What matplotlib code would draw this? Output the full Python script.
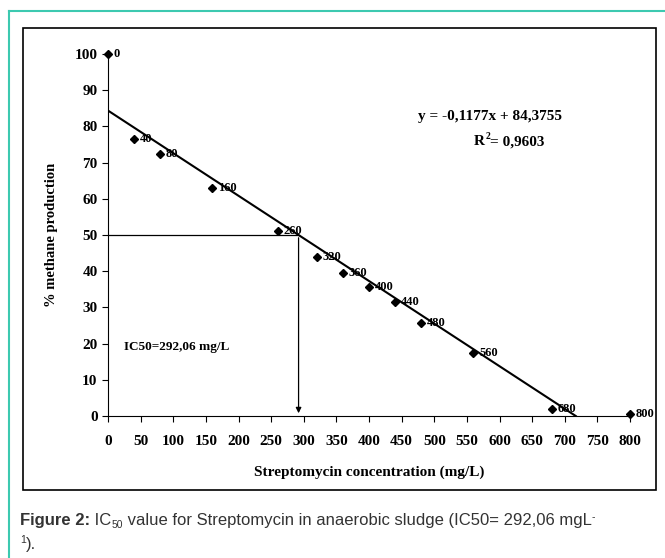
import matplotlib
matplotlib.use("Agg")
import matplotlib.pyplot as plt
from matplotlib.patches import Rectangle
import numpy as np

conc = [0, 40, 80, 160, 260, 320, 360, 400, 440, 480, 560, 680, 800]
methane = [100, 76.5, 72.3, 63, 51, 44, 39.5, 35.5, 31.5, 25.8, 17.5, 1.8, 0.5]
slope, intercept = -0.1177, 84.3755
ic50 = 292.06

W, H = 665, 558
fig = plt.figure(figsize=(W/100, H/100), dpi=100)
serif = dict(family="Liberation Serif", weight="bold")

teal = "#3cc9b0"
fig.add_artist(plt.Line2D([9/W, 9/W], [0, 1-11/H], color=teal, lw=1.5))
fig.add_artist(plt.Line2D([9/W, 1], [1-11/H, 1-11/H], color=teal, lw=1.5))
fig.add_artist(Rectangle((23/W, 1-490/H), (656-23)/W, (490-28)/H, fill=False, ec="black", lw=1.2))

ax = fig.add_axes([108/W, 1-416/H, (630-108)/W, (416-54)/H])
ax.set_xlim(0, 800)
ax.set_ylim(0, 100)
for s in ["top", "right"]:
    ax.spines[s].set_visible(False)
ax.set_xticks(range(0, 801, 50))
ax.set_yticks(range(0, 101, 10))
ax.tick_params(direction="out", length=4, labelsize=11)
for lab in ax.get_xticklabels() + ax.get_yticklabels():
    lab.set_fontfamily("Liberation Serif"); lab.set_fontweight("bold")
ax.tick_params(axis="x", pad=10)

ax.plot(conc, methane, "D", color="black", ms=4.5, clip_on=False, zorder=5)
for x, y in zip(conc, methane):
    ax.text(x + 9, y, str(x), fontsize=9, va="center", ha="left", **serif)

xe = -intercept / slope
xs = np.array([0, xe])
ax.plot(xs, slope * xs + intercept, color="black", lw=1.5)

ax.plot([0, ic50], [50, 50], color="black", lw=0.9)
ax.annotate("", xy=(ic50, 0), xytext=(ic50, 50),
            arrowprops=dict(arrowstyle="-|>", color="black", lw=0.9, mutation_scale=8))

ax.text(585, 82.6, "y = -0,1177x + 84,3755", ha="center", va="center", fontsize=11, **serif)
ax.text(578, 75.7, "R", ha="right", va="center", fontsize=11, **serif)
ax.text(578, 77.3, "2", ha="left", va="center", fontsize=7, **serif)
ax.text(586, 75.7, "= 0,9603", ha="left", va="center", fontsize=11, **serif)
ax.text(25, 19, "IC50=292,06 mg/L", fontsize=9.5, va="center", **serif)

ax.set_xlabel("Streptomycin concentration (mg/L)", fontsize=11, labelpad=12, **serif)
ax.set_ylabel("% methane production", fontsize=10.5, labelpad=12, **serif)

fig.canvas.draw()
r = fig.canvas.get_renderer()
cap = dict(family="Liberation Sans", color="#333333", va="baseline")
x = 20
y = 1 - 525/H
for txt, fs, w, dy in [("Figure 2:", 12, "bold", 0), (" IC", 12, "normal", 0), ("50", 7.5, "normal", -3),
                       (" value for Streptomycin in anaerobic sludge (IC50= 292,06 mgL", 12, "normal", 0),
                       ("-", 7.5, "normal", 5)]:
    t = fig.text(x/W, y + dy/H, txt, fontsize=fs, weight=w, **cap)
    x += t.get_window_extent(r).width
fig.text(20/W, 1-543/H, "1", fontsize=7.5, **cap)
fig.text(26/W, 1-549/H, ").", fontsize=12, **cap)

fig.savefig("out.png", dpi=100)
